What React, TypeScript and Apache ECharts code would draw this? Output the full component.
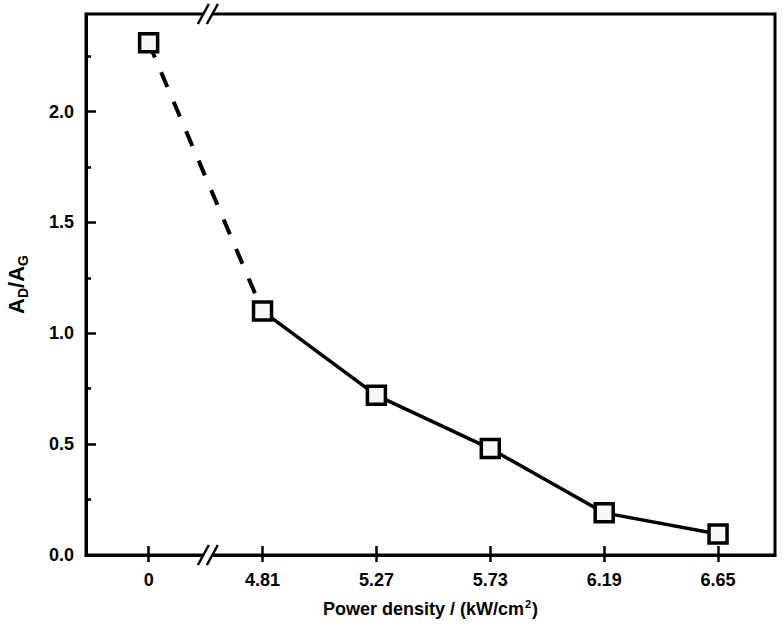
import React, { useEffect, useRef } from "react";
import * as echarts from "echarts";

const xLabels = ["0", "4.81", "5.27", "5.73", "6.19", "6.65"];
const xPos = [0, 1, 2, 3, 4, 5];
const ratio = [2.31, 1.1, 0.72, 0.48, 0.19, 0.095];
const yMajor = [0, 0.5, 1, 1.5, 2];
const yMinor = [0.25, 0.75, 1.25, 1.75, 2.25];
const breakAt = 0.52;

const FONT = "'Liberation Sans', Arial, sans-serif";

export default function App() {
  const ref = useRef<HTMLDivElement>(null);
  useEffect(() => {
    if (!ref.current) return;
    const chart = echarts.init(ref.current, null, { renderer: "svg" });
    const pts = xPos.map((x, i) => [x, ratio[i]]);
    const axisLine = { show: true, onZero: false, lineStyle: { color: "#000", width: 3 } };
    const label = {
      color: "#000",
      fontFamily: FONT,
      fontWeight: "bold" as const,
      fontSize: 18,
    };
    const xMin = -0.55;
    const xMax = 5.5;
    const yMax = 2.44;
    chart.setOption({
      animation: false,
      backgroundColor: "#fff",
      grid: {
        left: 86,
        right: 8,
        top: 14,
        bottom: 75,
        show: true,
        borderColor: "#000",
        borderWidth: 3,
        backgroundColor: "transparent",
        containLabel: false,
        outerBoundsMode: "none",
      },
      xAxis: [
        {
          type: "value",
          min: xMin,
          max: xMax,
          position: "bottom",
          axisLine,
          splitLine: { show: false },
          axisTick: {
            show: true,
            inside: false,
            length: 7,
            customValues: xPos,
            lineStyle: { color: "#000", width: 2.5 },
          },
          axisLabel: {
            ...label,
            margin: 16,
            customValues: xPos,
            formatter: (v: number) => xLabels[Math.round(v)] ?? "",
          },
          name: "Power density / (kW/cm{sup|2})",
          nameLocation: "middle",
          nameGap: 43,
          nameTextStyle: {
            color: "#000",
            fontFamily: FONT,
            fontWeight: "bold",
            fontSize: 18,
            lineHeight: 22,
            rich: {
              sup: {
                color: "#000",
                fontFamily: FONT,
                fontWeight: "bold",
                fontSize: 11,
                verticalAlign: "top",
                lineHeight: 22,
                padding: [0, 1, 10, 1],
              },
            },
          },
        },
        {
          type: "value",
          min: xMin,
          max: xMax,
          position: "bottom",
          axisLine: { show: false, onZero: false },
          splitLine: { show: false },
          axisTick: {
            show: true,
            inside: true,
            length: 9,
            customValues: xPos,
            lineStyle: { color: "#000", width: 2.5 },
          },
          axisLabel: { show: false },
        },
      ],
      yAxis: [
        {
          type: "value",
          min: 0,
          max: yMax,
          position: "left",
          axisLine,
          splitLine: { show: false },
          axisTick: {
            show: true,
            inside: true,
            length: 10,
            customValues: yMajor,
            lineStyle: { color: "#000", width: 2.5 },
          },
          axisLabel: {
            ...label,
            margin: 12,
            customValues: yMajor,
            formatter: (v: number) => v.toFixed(1),
          },
          name: "A{sub|D}/A{sub|G}",
          nameLocation: "middle",
          nameRotate: 90,
          nameGap: 56,
          nameTextStyle: {
            color: "#000",
            fontFamily: FONT,
            fontWeight: "bold",
            fontSize: 22,
            lineHeight: 28,
            rich: {
              sub: {
                color: "#000",
                fontFamily: FONT,
                fontWeight: "bold",
                fontSize: 14,
                verticalAlign: "bottom",
                lineHeight: 28,
                padding: [9, 0, 0, 0],
              },
            },
          },
        },
        {
          type: "value",
          min: 0,
          max: yMax,
          position: "left",
          axisLine: { show: false, onZero: false },
          splitLine: { show: false },
          axisTick: {
            show: true,
            inside: true,
            length: 5,
            customValues: yMinor,
            lineStyle: { color: "#000", width: 2.5 },
          },
          axisLabel: { show: false },
        },
      ],
      series: [
        {
          type: "line",
          data: pts.slice(0, 2),
          showSymbol: false,
          lineStyle: { color: "#000", width: 4, type: [16, 16] },
          z: 2,
        },
        {
          type: "line",
          data: pts.slice(1),
          showSymbol: false,
          lineStyle: { color: "#000", width: 3.5, type: "solid" },
          z: 2,
        },
        {
          type: "scatter",
          data: pts,
          symbol: "rect",
          symbolSize: 18,
          itemStyle: { color: "#f7f7f7", borderColor: "#000", borderWidth: 3.5, opacity: 1 },
          z: 3,
        },
      ],
    });

    const bottom = chart.convertToPixel({ gridIndex: 0 }, [breakAt, 0]) as number[];
    const top = chart.convertToPixel({ gridIndex: 0 }, [breakAt, yMax]) as number[];
    const mk = (cx: number, cy: number) => [
      {
        type: "rect",
        shape: { x: cx - 5, y: cy - 3, width: 10, height: 6 },
        style: { fill: "#fff" },
        z: 10,
      },
      {
        type: "line",
        shape: { x1: cx - 10, y1: cy + 10, x2: cx + 1, y2: cy - 10 },
        style: { stroke: "#000", lineWidth: 2.5 },
        z: 11,
      },
      {
        type: "line",
        shape: { x1: cx - 1, y1: cy + 10, x2: cx + 10, y2: cy - 10 },
        style: { stroke: "#000", lineWidth: 2.5 },
        z: 11,
      },
    ];
    chart.setOption({
      graphic: [...mk(bottom[0], bottom[1]), ...mk(top[0], top[1])],
    });

    return () => chart.dispose();
  }, []);
  return (
    <div
      ref={ref}
      style={{ position: "fixed", left: 0, top: 0, width: 783, height: 630 }}
    />
  );
}
